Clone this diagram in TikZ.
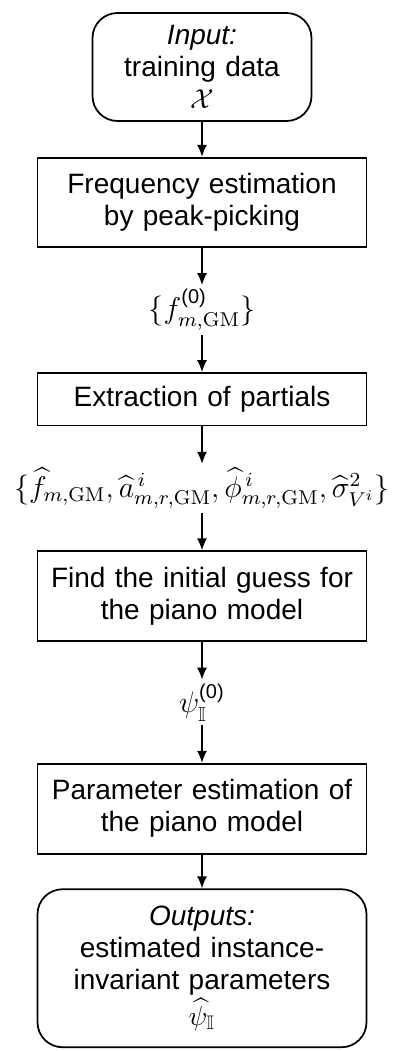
\documentclass[tikz,border=0pt]{standalone}
\usepackage{amsmath,amssymb}
\usepackage[no-math]{fontspec}
\setmainfont{Liberation Sans}
\usetikzlibrary{arrows.meta,positioning}

\begin{document}
\begin{tikzpicture}[
  node distance=14pt,
  every node/.style={font=\fontsize{11.2}{12.8}\selectfont},
  stepbox/.style={rectangle, draw, line width=0.7pt, align=center,
                  text width=126pt, minimum width=131.6pt, inner sep=2pt},
  termbox/.style={stepbox, rounded corners=10pt},
  lbl/.style={inner sep=1.5pt, font=\fontsize{12}{14}\selectfont},
  arr/.style={-{Latex[length=4.8pt,width=4pt]}, line width=0.6pt}
]
\useasboundingbox (0,0) rectangle (158pt,-420.4pt);

% ---- Input ----
\node[termbox, minimum width=87.6pt, text width=82pt, minimum height=43.2pt] (input) at (80.8pt,-26.8pt)
  {\textit{Input:}\\training data\\$\mathcal{X}$};

% ---- Frequency estimation ----
\node[stepbox, minimum height=35.6pt, below=14pt of input] (freq) {Frequency estimation\\by peak-picking};
\node[lbl, below=15pt of freq] (fzero) {$\{f^{\text{(0)}}_{m,\mathrm{GM}}\}$};
\draw[arr] (input) -- (freq);
\draw[arr] (freq) -- (fzero);

% ---- Partials ----
\node[stepbox, minimum height=21pt, below=15pt of fzero] (partials) {Extraction of partials};
\node[lbl, font=\fontsize{11.5}{13}\selectfont, below=15pt of partials] (params)
  {$\{\widehat{f}_{m,\mathrm{GM}},\widehat{a}^{\,i}_{m,r,\mathrm{GM}},\widehat{\phi}^{\,i}_{m,r,\mathrm{GM}},\widehat{\sigma}^2_{V^i}\}$};
\draw[arr] (fzero) -- (partials);
\draw[arr] (partials) -- (params);

% ---- Initial guess ----
\node[stepbox, minimum height=36pt, below=15pt of params] (guess) {Find the initial guess for\\the piano model};
\node[lbl, below=15pt of guess] (psizero) {$\psi^{\text{(0)}}_{\mathbb{I}}$};
\draw[arr] (params) -- (guess);
\draw[arr] (guess) -- (psizero);

% ---- Parameter estimation ----
\node[stepbox, minimum height=36pt, below=15pt of psizero] (estim) {Parameter estimation of\\the piano model};
\draw[arr] (psizero) -- (estim);

% ---- Outputs ----
\node[termbox, minimum height=63.2pt, below=13.5pt of estim] (output)
  {\textit{Outputs:}\\estimated instance-\\invariant parameters\\$\widehat{\psi}_{\mathbb{I}}$};
\draw[arr] (estim) -- (output);

\end{tikzpicture}
\end{document}
